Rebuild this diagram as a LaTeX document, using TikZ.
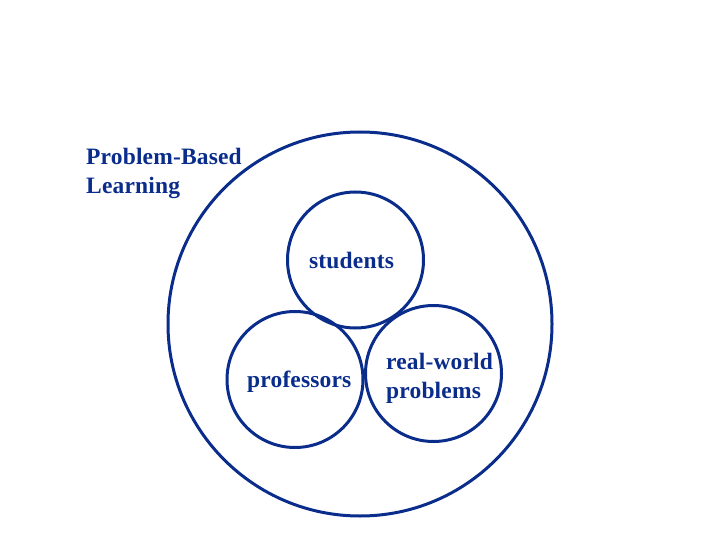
\documentclass[tikz,border=0pt]{standalone}
\usepackage{fontspec}
\setmainfont{Liberation Serif}[LetterSpace=0.7]
\definecolor{pblblue}{RGB}{10,45,140}
\begin{document}
\begin{tikzpicture}[x=1pt,y=-1pt,
  ring/.style={circle,draw=pblblue,line width=3pt,inner sep=0pt},
  lbl/.style={anchor=base west,inner sep=0pt,text=pblblue,font=\fontsize{23.5}{28}\selectfont\bfseries}]
\useasboundingbox (0,0) rectangle (720,540);
\node[ring,minimum size=384pt] (pbl) at (360,324) {};
\node[ring,minimum size=136pt] (stu) at (355.5,260) {};
\node[ring,minimum size=136pt] (prof) at (295,379.5) {};
\node[ring,minimum size=136pt] (rw) at (433.5,373.5) {};
\node[lbl] (t1) at (86,165) {Problem-Based};
\node[lbl] (t2) at (86,194) {Learning};
\node[lbl] (t3) at (309,268) {students};
\node[lbl] (t4) at (247,387) {professors};
\node[lbl] (t5) at (386,369) {real-world};
\node[lbl] (t6) at (386,398) {problems};
\end{tikzpicture}
\end{document}
